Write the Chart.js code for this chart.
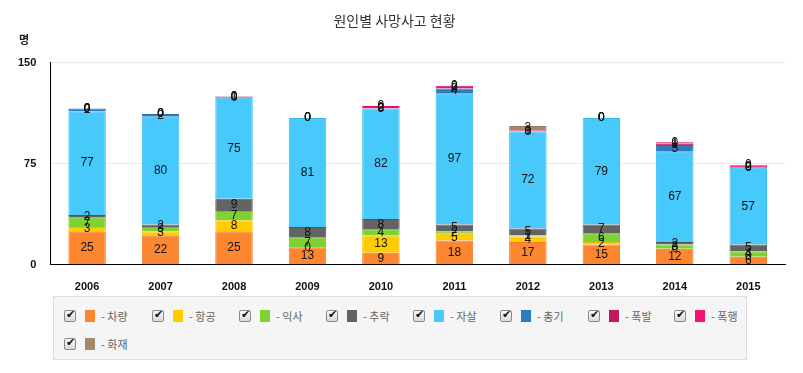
<!DOCTYPE html>
<html><head><meta charset="utf-8">
<script src="https://cdn.jsdelivr.net/npm/chart.js@4.4.0/dist/chart.umd.min.js"></script>
<style>
html,body{margin:0;padding:0;background:#fff;width:803px;height:373px;overflow:hidden;font-family:"Noto Sans CJK KR","Noto Sans",sans-serif;}
#wrap{position:relative;width:803px;height:373px;}
#c{position:absolute;left:0;top:0;}
#unit{position:absolute;left:19px;top:31px;font-size:11px;color:#222;font-weight:bold;}
#legend{position:absolute;left:53px;top:296px;width:694px;height:64px;background:#f5f5f5;border:1px solid #dcdcdc;box-sizing:border-box;}
.item{position:absolute;display:flex;align-items:center;font-size:11px;color:#666;}
.item input{-webkit-appearance:none;appearance:none;margin:0 9px 0 0;width:12px;height:12px;border:1px solid #8a8a8a;border-radius:2px;background:linear-gradient(#fafafa,#d8d8d8);position:relative;box-sizing:border-box;}
.item input:checked::after{content:"✔";position:absolute;left:1px;top:-3px;font-size:11px;color:#111;font-family:"DejaVu Sans",sans-serif;}
.sw{display:inline-block;width:10px;height:12px;margin-right:6px;}
</style></head>
<body><div id="wrap">
<canvas id="c" width="803" height="310"></canvas>
<div id="unit">명</div>
<div id="legend"></div>
</div>
<script>
const categories = ["2006","2007","2008","2009","2010","2011","2012","2013","2014","2015"];
const seriesNames = ["차량","항공","익사","추락","자살","총기","폭발","폭행","화재"];
const vehicle   = [25,22,25,13, 9,18,17,15,12, 6];
const aviation  = [ 3, 3, 8, 0,13, 5, 4, 2, 0, 0];
const drowning  = [ 7, 3, 7, 7, 4, 2, 1, 6, 3, 4];
const falling   = [ 2, 2, 9, 8, 8, 5, 5, 7, 2, 5];
const suicide   = [77,80,75,81,82,97,72,79,67,57];
const firearm   = [ 2, 2, 0, 0, 0, 4, 0, 0, 5, 0];
const explosion = [ 0, 0, 1, 0, 0, 0, 0, 0, 1, 0];
const assault   = [ 0, 0, 0, 0, 2, 2, 1, 0, 1, 2];
const fire      = [ 0, 0, 0, 0, 0, 0, 3, 0, 0, 0];
const yTicks = [0,75,150];

const seriesData = [vehicle,aviation,drowning,falling,suicide,firearm,explosion,assault,fire];
const colors  = ["#fd8731","#ffcc00","#7dd132","#636363","#48c9fb","#2e7cbf","#c2185b","#f2126f","#a48a6a"];
const borders = ["#f07a25","#f0bf00","#70c226","#555555","#3bbcee","#2570b0","#b0104e","#e00a62","#967d5e"];

const labelPlugin = {
  id:'segLabels',
  afterDatasetsDraw(chart){
    const ctx = chart.ctx;
    ctx.save();
    ctx.font = '12px "Liberation Sans", Arial, sans-serif';
    ctx.fillStyle = '#111';
    ctx.textAlign = 'center';
    ctx.textBaseline = 'middle';
    chart.data.datasets.forEach((ds,i)=>{
      const meta = chart.getDatasetMeta(i);
      meta.data.forEach((el,j)=>{
        const p = el.getProps(['x','y','base'],true);
        ctx.fillText(String(ds.data[j]), p.x, (p.y+p.base)/2);
      });
    });
    ctx.restore();
  }
};

new Chart(document.getElementById('c'),{
  type:'bar',
  data:{
    labels:categories,
    datasets:seriesNames.map((n,i)=>({
      label:'- '+n, data:seriesData[i],
      backgroundColor:colors[i], borderColor:borders[i], borderWidth:1,
      barPercentage:0.51, categoryPercentage:1.0
    }))
  },
  options:{
    responsive:false, animation:false,
    layout:{padding:{left:4,right:18,top:0,bottom:0}},
    plugins:{
      legend:{display:false},
      tooltip:{enabled:false},
      title:{display:true,text:'원인별 사망사고 현황',color:'#333',
        font:{family:'"Noto Sans CJK KR"',size:14,weight:'normal'},padding:{top:12,bottom:34}}
    },
    scales:{
      x:{stacked:true,
        grid:{display:false,drawTicks:false},
        border:{color:'#000',width:1},
        ticks:{color:'#111',padding:16,font:{family:'"Liberation Sans", Arial',size:11,weight:'bold'}}},
      y:{stacked:true,min:0,max:150,
        afterBuildTicks(ax){ax.ticks=yTicks.map(v=>({value:v}));},
        grid:{color:'#ececec',drawTicks:false},
        border:{color:'#000',width:1},
        ticks:{color:'#111',padding:14,font:{family:'"Liberation Sans", Arial',size:11,weight:'bold'}}}
    }
  },
  plugins:[labelPlugin]
});

const lg = document.getElementById('legend');
const xs=[10,98,185,272,359,446,534,620];
seriesNames.forEach((n,i)=>{
  const d=document.createElement('div');d.className='item';
  const row = i<8?0:1, col = i<8?i:0;
  d.style.left = xs[col]+'px'; d.style.top = (row===0?11:39)+'px';
  d.innerHTML='<input type="checkbox" checked><span class="sw" style="background:'+colors[i]+'"></span><span>- '+n+'</span>';
  lg.appendChild(d);
});
</script>
</body></html>
